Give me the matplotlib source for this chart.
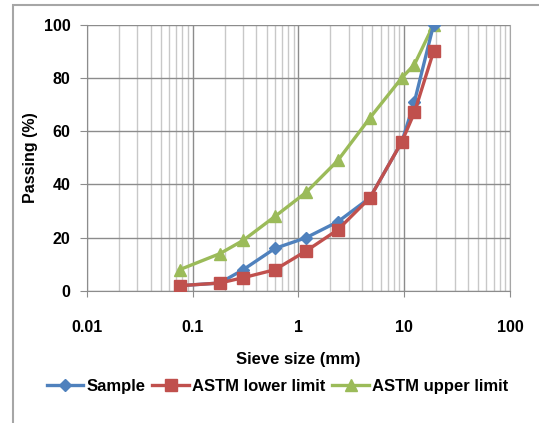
import numpy as np
import matplotlib
matplotlib.use("Agg")
import matplotlib.pyplot as plt
from matplotlib.ticker import LogLocator, FixedLocator, FuncFormatter, NullFormatter

sieve_mm = [0.075, 0.18, 0.3, 0.6, 1.18, 2.36, 4.75, 9.5, 12.5, 19]
sample = [2, 3, 8, 16, 20, 26, 35, 56, 71, 100]
astm_lower = [2, 3, 5, 8, 15, 23, 35, 56, 67, 90]
astm_upper = [8, 14, 19, 28, 37, 49, 65, 80, 85, 100]

plt.rcParams['font.family'] = ['Liberation Sans', 'DejaVu Sans']

fig = plt.figure(figsize=(5.39, 4.23), dpi=100)
ax = fig.add_axes([0.1614, 0.312, 0.7846, 0.630])

# chart frame like the Excel chart area
fig.patches.append(plt.Rectangle((13 / 539, -0.1), 1.2, (423 - 5) / 423 + 0.1,
                                  transform=fig.transFigure, fill=False,
                                  edgecolor='#a6a6a6', linewidth=1.5))

ax.plot(sieve_mm, sample, color='#4F81BD', linewidth=2.4, marker='D',
        markersize=6.5, label='Sample', zorder=3)
ax.plot(sieve_mm, astm_lower, color='#C0504D', linewidth=2.4, marker='s',
        markersize=8, label='ASTM lower limit', zorder=4)
ax.plot(sieve_mm, astm_upper, color='#9BBB59', linewidth=2.4, marker='^',
        markersize=8.5, label='ASTM upper limit', zorder=2)

ax.set_xscale('log')
ax.set_xlim(0.01, 100)
ax.set_ylim(0, 100)
ax.set_yticks(range(0, 101, 20))
ax.xaxis.set_major_locator(FixedLocator([0.01, 0.1, 1, 10, 100]))
ax.xaxis.set_major_formatter(FuncFormatter(lambda v, p: f"{v:g}"))
ax.xaxis.set_minor_locator(LogLocator(base=10, subs=np.arange(2, 10)))
ax.xaxis.set_minor_formatter(NullFormatter())

ax.grid(True, which='major', color='#8c8c8c', linewidth=1.0)
ax.grid(True, which='minor', axis='x', color='#c8c8c8', linewidth=1.0)
ax.set_axisbelow(True)

ax.spines['top'].set_visible(False)
ax.spines['right'].set_color('#a6a6a6')
ax.spines['left'].set_color('#8c8c8c')
ax.spines['bottom'].set_color('#8c8c8c')

ax.tick_params(axis='y', which='major', length=5, color='#8c8c8c', labelsize=11.5, pad=7)
ax.tick_params(axis='x', which='major', length=4, color='#8c8c8c', labelsize=11.5, pad=17)
ax.tick_params(axis='x', which='minor', length=0)
for lbl in ax.get_xticklabels() + ax.get_yticklabels():
    lbl.set_fontweight('bold')

ax.set_ylabel('Passing (%)', fontsize=11.5, fontweight='bold')
ax.yaxis.set_label_coords(-0.115, 0.5)
ax.set_xlabel('Sieve size (mm)', fontsize=12, fontweight='bold')
ax.xaxis.set_label_coords(0.5, -0.228)

leg = fig.legend(loc='center', bbox_to_anchor=(0.515, 0.087), ncol=3, frameon=False,
                 prop={'weight': 'bold', 'size': 12}, handlelength=2.2,
                 handletextpad=0.2, columnspacing=0.4, borderaxespad=0)

fig.savefig('out.png', dpi=100)
